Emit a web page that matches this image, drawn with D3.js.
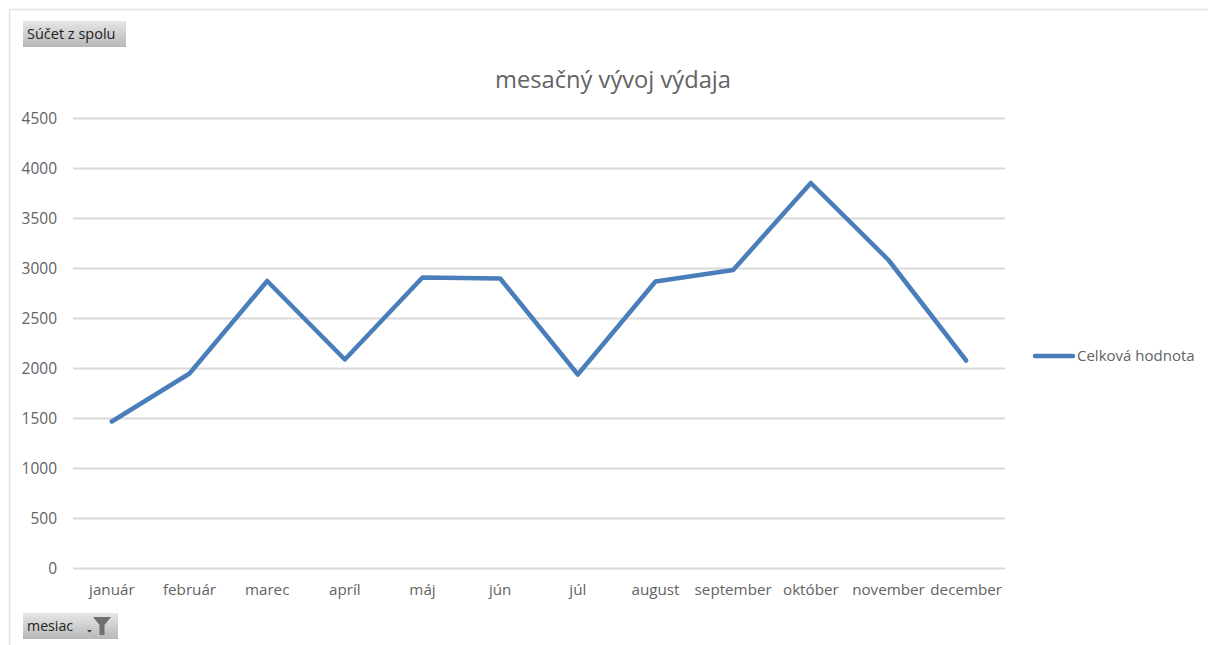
<!DOCTYPE html>
<html>
<head>
<meta charset="utf-8">
<script src="https://cdnjs.cloudflare.com/ajax/libs/d3/7.8.5/d3.min.js"></script>
<style>
  html, body { margin: 0; padding: 0; background: #fff; }
  svg { display: block; }
  text { font-family: "Open Sans", sans-serif; }
</style>
</head>
<body>
<div id="chart"></div>
<script>
// Chart data
const months = ["január", "február", "marec", "apríl", "máj", "jún", "júl", "august", "september", "október", "november", "december"];
const values = [1470, 1950, 2875, 2090, 2910, 2900, 1940, 2870, 2985, 3855, 3085, 2080];
const yTicks = [0, 500, 1000, 1500, 2000, 2500, 3000, 3500, 4000, 4500];
const seriesName = "Celková hodnota";
const chartTitle = "mesačný vývoj výdaja";

const width = 1208, height = 645;
const margin = { top: 118.5, right: 203, bottom: 76.5, left: 73 };
const blue = "#4a7ebb", textGrey = "#636363";

const svg = d3.select("#chart").append("svg")
    .attr("width", width)
    .attr("height", height);

const defs = svg.append("defs");
const grad = defs.append("linearGradient")
    .attr("id", "btn").attr("x1", 0).attr("y1", 0).attr("x2", 0).attr("y2", 1);
grad.append("stop").attr("offset", "0%").attr("stop-color", "#e6e6e6");
grad.append("stop").attr("offset", "100%").attr("stop-color", "#b8b8b8");

// Outer chart frame, only top and left edges are visible
svg.append("path")
    .attr("d", `M9.5,${height}V9.5H${width}`)
    .attr("fill", "none")
    .attr("stroke", "#e2e2e2")
    .attr("stroke-width", 1.5);

const x = d3.scaleBand()
    .domain(months)
    .range([margin.left, width - margin.right]);

const y = d3.scaleLinear()
    .domain([0, 4500])
    .range([height - margin.bottom, margin.top]);

// Y axis labels
const yAxis = svg.append("g")
    .attr("transform", `translate(${margin.left},0)`)
    .call(d3.axisLeft(y).tickValues(yTicks).tickSize(0).tickPadding(16).tickFormat(d3.format("d")));
yAxis.select(".domain").remove();
yAxis.selectAll("text").attr("fill", textGrey).style("font-size", "15.5px");

// Gridlines
svg.append("g").selectAll("line")
    .data(yTicks)
    .enter().append("line")
    .attr("x1", margin.left)
    .attr("x2", width - margin.right)
    .attr("y1", d => y(d))
    .attr("y2", d => y(d))
    .attr("stroke", "#d9d9d9")
    .attr("stroke-width", 1.8);

// X axis
const xAxis = svg.append("g")
    .attr("transform", `translate(0,${height - margin.bottom})`)
    .call(d3.axisBottom(x).tickSize(0).tickPadding(16));
xAxis.select(".domain").remove();
xAxis.selectAll("text").attr("fill", textGrey).style("font-size", "15.2px");

// Line
const line = d3.line()
    .x((d, i) => x(months[i]) + x.bandwidth() / 2)
    .y(d => y(d));

svg.append("path")
    .datum(values)
    .attr("fill", "none")
    .attr("stroke", blue)
    .attr("stroke-width", 4.5)
    .attr("stroke-linecap", "round")
    .attr("stroke-linejoin", "round")
    .attr("d", line);

// Title
svg.append("text")
    .attr("x", 613)
    .attr("y", 88)
    .attr("text-anchor", "middle")
    .attr("fill", textGrey)
    .style("font-size", "23.7px")
    .text(chartTitle);

// Legend
svg.append("line")
    .attr("x1", 1035).attr("x2", 1073)
    .attr("y1", 356).attr("y2", 356)
    .attr("stroke", blue)
    .attr("stroke-width", 4.5)
    .attr("stroke-linecap", "round");
svg.append("text")
    .attr("x", 1077)
    .attr("y", 361)
    .attr("fill", textGrey)
    .style("font-size", "15px")
    .text(seriesName);

// Pivot field buttons
const btnText = "#222";
svg.append("rect")
    .attr("x", 23).attr("y", 21).attr("width", 103).attr("height", 26)
    .attr("fill", "url(#btn)");
svg.append("text")
    .attr("x", 27).attr("y", 39)
    .attr("fill", btnText)
    .style("font-size", "14.5px")
    .text("Súčet z spolu");

svg.append("rect")
    .attr("x", 23).attr("y", 613).attr("width", 95).attr("height", 26)
    .attr("fill", "url(#btn)");
svg.append("text")
    .attr("x", 27).attr("y", 631)
    .attr("fill", btnText)
    .style("font-size", "14.2px")
    .text("mesiac");

// Dropdown arrow and filter funnel on the button
svg.append("path")
    .attr("d", "M87,630h5l-2.5,2.5z")
    .attr("fill", "#333");
svg.append("path")
    .attr("d", "M93,617h18l-6.5,8v10h-5v-10z")
    .attr("fill", "#6f6f6f");
</script>
</body>
</html>
